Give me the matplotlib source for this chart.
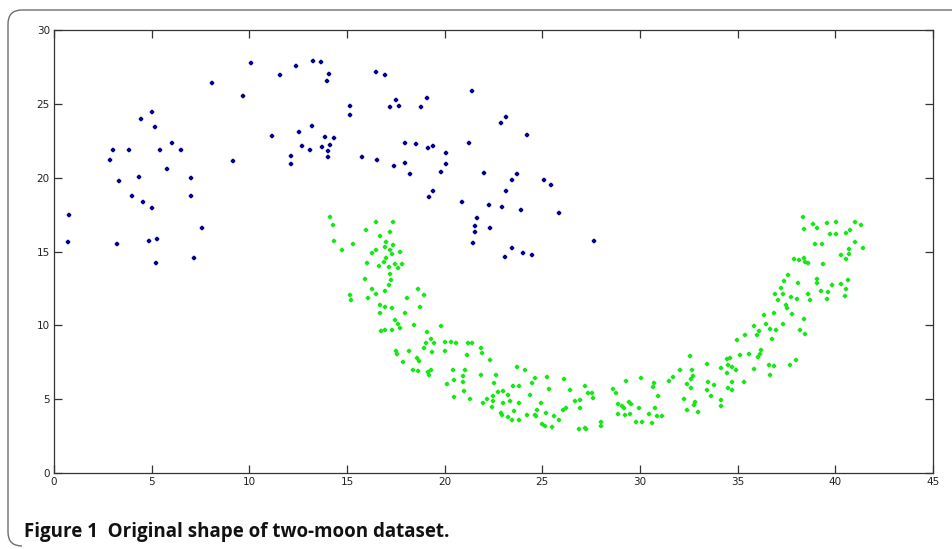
import matplotlib
matplotlib.use("Agg")
import matplotlib.pyplot as plt
from matplotlib.path import Path
from matplotlib.patches import PathPatch

# Upper moon (blue)
blue_x = [0.71, 0.78, 2.86, 3.01, 3.33, 3.23, 3.82, 4.01, 4.35, 4.47, 4.57, 4.88, 5.03, 5.03,
          5.16, 5.28, 5.22, 5.44, 5.81, 6.03, 6.49, 7.02, 7.02, 7.18, 7.58, 8.08, 9.17, 9.70,
          10.1, 11.16, 11.59, 12.12, 12.15, 12.4, 12.55, 12.71, 13.11, 13.21, 13.24, 13.67,
          13.74, 13.89, 13.98, 14.08, 14.02, 14.02, 14.14, 14.36, 15.13, 15.16, 15.75, 16.53,
          16.5, 16.94, 17.18, 17.4, 17.5, 17.65, 17.96, 17.96, 18.24, 18.55, 18.77, 19.11,
          19.17, 19.39, 19.2, 19.39, 19.83, 20.07, 20.07, 20.91, 21.26, 21.38, 21.47, 21.53,
          21.53, 21.66, 22.0, 22.25, 22.34, 22.87, 23.12, 22.93, 23.12, 23.09, 23.46, 23.46,
          23.71, 23.9, 24.02, 24.24, 24.49, 25.11, 25.45, 25.85, 27.63]
blue_y = [15.67, 17.45, 21.2, 21.88, 19.75, 15.5, 21.88, 18.75, 20.06, 23.97, 18.32, 15.71,
          24.45, 17.92, 23.45, 15.88, 14.24, 21.84, 20.58, 22.34, 21.84, 19.96, 18.73, 14.53,
          16.57, 26.39, 21.15, 25.56, 27.75, 22.83, 26.92, 21.48, 20.91, 27.58, 23.12, 22.12,
          21.86, 23.52, 27.87, 27.82, 22.07, 22.74, 26.58, 26.99, 21.79, 21.41, 22.22, 22.69,
          24.26, 24.83, 21.39, 21.2, 27.15, 26.92, 24.8, 20.79, 25.28, 24.88, 22.34, 20.96,
          20.22, 22.29, 24.76, 25.37, 22.0, 22.15, 18.7, 19.11, 20.41, 21.65, 20.91, 18.32,
          22.34, 25.9, 15.55, 16.73, 16.33, 17.28, 20.29, 18.13, 16.57, 23.71, 24.14, 18.04,
          19.11, 14.65, 19.84, 15.26, 20.22, 17.8, 14.93, 22.91, 14.76, 19.84, 19.51, 17.59,
          15.71]

# Lower moon (green)
green_x = [14.14, 14.29, 16.5, 17.35, 15.98, 16.67, 17.18, 14.31, 15.3, 14.73, 17.01, 16.92,
           17.35, 17.18, 17.32, 16.5, 16.29, 17.73, 17.01, 16.87, 16.02, 16.62, 17.13, 17.47,
           17.81, 17.59, 17.22, 17.27, 15.9, 17.15, 16.27, 16.97, 16.5, 18.62, 18.92, 15.16,
           15.21, 16.06, 18.07, 16.68, 16.97, 17.3, 18.72, 16.67, 17.98, 17.47, 17.59, 17.73,
           18.41, 16.72, 16.97, 17.3, 19.81, 19.11, 19.28, 19.06, 19.44, 18.92, 20.03, 20.32,
           20.6, 21.21, 21.41, 17.52, 17.56, 18.19, 19.35, 20.0, 21.86, 21.9, 21.13, 22.31,
           18.6, 18.7, 17.86, 18.36, 18.65, 19.13, 19.28, 19.18, 20.43, 21.04, 20.92, 21.86,
           20.5, 20.96, 20.1, 20.97, 20.46, 21.3, 22.15, 21.98,
           22.63, 22.53, 22.45, 22.46, 22.43, 22.74, 23.01, 23.23, 22.98, 23.32, 22.86, 22.92,
           23.26, 23.47, 23.57, 23.48, 23.79, 23.71, 24.12, 23.82, 23.82, 24.21, 24.38, 24.48,
           24.63, 24.6, 24.68, 24.73, 24.94, 25.21, 24.99, 25.16, 25.49, 25.32, 25.23, 25.62,
           25.86, 26.04, 26.21, 26.09, 26.43, 26.65, 26.91, 26.92, 26.89, 27.18, 27.23, 27.2,
           27.32, 27.54, 27.59, 28.02, 28.0, 28.63, 28.77, 28.87, 28.87, 29.08, 29.19, 29.24,
           29.3, 29.45, 29.55, 29.49, 29.81, 29.93, 30.09, 30.07, 30.45, 30.63, 30.68, 30.73,
           30.94, 30.79, 30.87, 31.13, 31.5,
           31.71, 32.07, 32.58, 32.65, 32.7, 32.6, 32.39, 32.6, 32.27, 32.8, 32.77, 32.41,
           32.97, 33.42, 33.49, 33.44, 33.81, 33.64, 34.15, 34.15, 34.15, 34.43, 34.62, 34.43,
           34.5, 34.73, 34.92, 34.71, 34.5, 34.71, 35.3, 35.13, 35.57, 35.86, 34.96, 35.37,
           35.83, 35.98, 36.07, 36.04, 36.15, 36.21, 36.37, 36.46, 36.68, 36.77, 36.97, 36.58,
           36.85, 36.67, 36.84, 37.32, 37.06, 36.89, 37.32, 37.22, 37.35, 37.57, 37.45, 37.52,
           37.78, 37.74, 38.05, 38.08, 37.69, 37.97, 38.21, 38.46, 38.41, 38.68, 38.62, 37.9,
           38.12, 38.39, 38.46, 38.6, 39.35, 38.34, 38.38, 38.86, 39.06, 39.57, 40.02, 39.74,
           40.02, 38.94, 39.32, 40.56, 40.77, 41.03, 41.32, 41.03, 41.42, 40.7, 40.71, 40.31,
           40.56, 39.06, 39.06, 39.83, 40.31, 40.65, 40.56, 40.48, 39.27, 39.62, 39.57]
green_y = [17.35, 16.78, 17.0, 17.0, 16.44, 16.06, 16.29, 15.7, 15.5, 15.09, 15.65, 15.31,
           15.47, 15.09, 14.86, 15.13, 14.91, 14.97, 14.57, 14.3, 14.23, 14.02, 13.96, 14.14,
           14.18, 13.85, 13.46, 13.1, 13.17, 12.72, 12.49, 12.31, 12.15, 12.49, 12.04, 12.04,
           11.7, 11.86, 11.88, 11.36, 11.25, 11.18, 11.25, 10.84, 10.84, 10.39, 10.12, 9.83,
           10.0, 9.62, 9.67, 9.67, 9.95, 9.55, 9.1, 8.81, 8.81, 8.47, 8.88, 8.88,
           8.77, 8.77, 8.77, 8.27, 8.09, 8.29, 8.2, 8.25, 8.47, 8.16, 7.97, 7.68,
           7.77, 7.61, 7.5, 6.96, 6.91, 6.84, 6.96, 6.62, 6.96, 6.96, 6.55, 6.62,
           6.33, 6.17, 6.06, 5.54, 5.15, 5.04, 5.04, 4.77,
           6.66, 6.1, 4.86, 5.2, 4.5, 5.49, 5.58, 5.26, 4.74, 4.86, 4.07, 3.96,
           3.82, 3.59, 4.2, 5.92, 5.92, 7.18, 6.96, 4.74, 3.59, 3.96, 5.31, 6.1,
           6.46, 3.96, 3.86, 4.29, 4.74, 4.07, 3.32, 3.21, 3.1, 5.72, 6.48, 3.89,
           3.57, 4.25, 4.38, 6.37, 5.65, 4.86, 4.91, 4.37, 2.96, 3.07, 2.98, 5.92,
           5.42, 5.42, 5.08, 3.43, 3.18, 5.69, 5.42, 4.68, 4.0, 4.52, 4.37, 3.93,
           6.26, 4.81, 4.7, 4.0, 3.46, 4.38, 3.46, 6.46, 3.98, 3.39, 5.83, 6.12,
           5.2, 4.4, 3.89, 3.89, 6.21,
           6.5, 6.96, 7.91, 6.96, 6.55, 6.35, 6.06, 5.76, 5.01, 4.81, 4.59, 4.25,
           4.13, 7.41, 6.17, 5.65, 5.94, 5.2, 4.97, 4.57, 7.11, 7.75, 7.79, 6.78,
           7.3, 7.18, 6.96, 6.17, 5.76, 5.65, 6.17, 7.97, 8.04, 7.07, 8.99, 9.37,
           9.94, 9.33, 9.6, 7.86, 8.09, 8.36, 10.68, 10.12, 9.78, 9.1, 9.71, 7.34,
           7.25, 6.66, 10.84, 10.12, 11.7, 12.15, 12.15, 12.56, 12.99, 13.39, 11.36, 11.14,
           10.8, 11.92, 11.81, 12.9, 7.34, 7.64, 9.67, 9.44, 10.46, 11.7, 12.15, 14.46,
           14.42, 14.59, 14.3, 14.23, 14.18, 17.35, 16.51, 16.83, 16.56, 16.94, 17.0, 16.17,
           16.17, 15.5, 15.5, 16.26, 16.44, 17.0, 16.8, 15.65, 15.27, 15.2, 14.86, 14.75,
           14.46, 13.17, 12.9, 12.72, 12.78, 13.1, 12.49, 12.02, 12.31, 12.27, 11.75]

x_ticks = [0, 5, 10, 15, 20, 25, 30, 35, 40, 45]
y_ticks = [0, 5, 10, 15, 20, 25, 30]
caption = "Figure 1  Original shape of two-moon dataset."

W, H = 953, 549
fig = plt.figure(figsize=(W / 100, H / 100), dpi=100)
fig.patch.set_facecolor("white")

# rounded frame (open on the right / bottom)
r = 14
verts = [(W + 5, H - 10), (8 + r, H - 10), (8, H - 10), (8, H - 10 - r), (8, 3 + r), (8, 3), (8 + r, 3)]
codes = [Path.MOVETO, Path.LINETO, Path.CURVE3, Path.CURVE3, Path.LINETO, Path.CURVE3, Path.CURVE3]
frame = PathPatch(Path([(vx / W, vy / H) for vx, vy in verts], codes), transform=fig.transFigure,
                  facecolor="none", edgecolor="#6e6e6e", linewidth=1.0, clip_on=False)
fig.patches.append(frame)

ax = fig.add_axes([54 / W, 1 - 473 / H, (933 - 54) / W, (473 - 30) / H])
ax.scatter(blue_x, blue_y, marker="P", s=10, color="#0000b0", edgecolors="#000050", linewidths=0.3, zorder=3)
ax.scatter(green_x, green_y, marker="P", s=10, color="#11ee11", edgecolors="#22dd22", linewidths=0.3, zorder=3)

ax.set_xlim(0, 45)
ax.set_ylim(0, 30)
ax.set_xticks(x_ticks)
ax.set_yticks(y_ticks)
ax.tick_params(direction="in", length=6, width=0.9, colors="#333333", labelsize=7.5,
               top=True, right=True, pad=3)
for lab in ax.get_xticklabels() + ax.get_yticklabels():
    lab.set_color("#222222")
for s in ax.spines.values():
    s.set_color("#333333")
    s.set_linewidth(0.9)

fig.text(24 / W, 1 - 537 / H, caption, fontsize=13.5, fontweight="bold", family="Open Sans",
         color="#111111", ha="left", va="baseline")

fig.savefig("out.png", dpi=100)
